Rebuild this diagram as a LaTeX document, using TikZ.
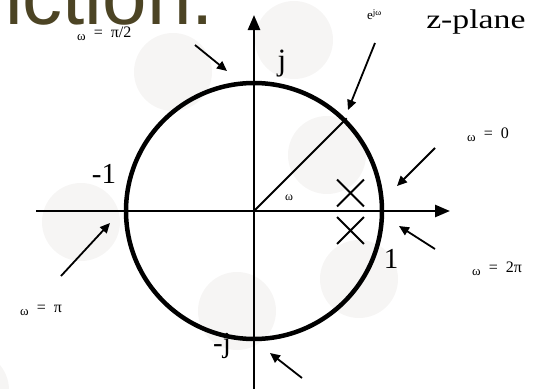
\documentclass[tikz,border=0pt]{standalone}
\usepackage{fontspec}
\setmainfont{Liberation Serif}
\newfontfamily\titlefont{Liberation Sans}
\usepackage{xcolor}
\usetikzlibrary{arrows.meta, positioning, shapes.misc}
\definecolor{blob}{RGB}{246,245,244}
\definecolor{titleolive}{RGB}{76,68,36}
\newcommand{\wsym}{\raisebox{-3pt}{\fontsize{13}{13}\selectfont ω}}

\begin{document}
\begin{tikzpicture}[
    x=1pt, y=-1pt,
    bgdot/.style={fill=blob, draw=none},
    axis/.style={line width=2.5pt, -{Triangle[length=15pt,width=12pt]}},
    unitcircle/.style={line width=4.5pt},
    pointer/.style={line width=1.8pt, -{Triangle[length=10pt,width=9pt]}},
    pole/.style={cross out, draw, line width=1.8pt, minimum size=25pt, inner sep=0pt},
    biglabel/.style={font=\fontsize{29}{29}\selectfont, inner sep=0pt, anchor=base},
    smalllabel/.style={font=\fontsize{16}{16}\selectfont, inner sep=0pt, anchor=base west}
]
\useasboundingbox (0,0) rectangle (537,388);

% background dots
\foreach \cx/\cy in {173/72, 294/40, 327/155, 81/222, 237/311, 359/279, -30/390}
    \fill[bgdot] (\cx,\cy) circle (39);

% cut-off title
\node[font=\titlefont\fontsize{80}{80}\selectfont, text=titleolive,
      inner sep=0pt, anchor=base east] (title) at (214,24) {nction.};

% axes
\coordinate (O) at (254,211);
\coordinate (xl) at (36,211);
\coordinate (xr) at (450,211);
\coordinate (yb) at (254,392);
\coordinate (yt) at (254,15);
\draw[axis] (xl) -- (xr);
\draw[axis] (yb) -- (yt);

% unit circle and radius
\draw[unitcircle] (O) circle (128);
\draw[line width=1.8pt] (O) -- ++(-45:131) coordinate (rim);

% poles
\node[pole] (p1) at (350.5,193) {};
\node[pole] (p2) at (350.5,230.5) {};

% axis labels
\node[biglabel, font=\fontsize{31}{31}\selectfont] (j) at (282,70) {j};
\node[biglabel] (m1) at (104,183) {-1};
\node[biglabel] (one) at (391,268) {1};
\node[biglabel] (mj) at (222,352) {-j};
\node[font=\fontsize{27}{27}\selectfont, inner sep=0pt, anchor=base west, xscale=1.25] (zp) at (426,28) {z-plane};
\node[font=\fontsize{12}{12}\selectfont, inner sep=0pt, anchor=base west] (ang) at (285,200) {ω};

% frequency labels
\node[smalllabel] (wHalf) at (77,37) {\wsym\ \ = \ π/2};
\node[smalllabel] (wZero) at (467,138) {\wsym\ \ = \ 0};
\node[smalllabel] (wTwo) at (472,272) {\wsym\ \ = \ 2π};
\node[smalllabel] (wPi) at (20,312) {\wsym\ \ = \ π};
\node[font=\fontsize{13}{13}\selectfont, inner sep=0pt, anchor=base west] (ejw) at (367,19)
    {e\raisebox{4pt}{\fontsize{9}{9}\selectfont jω}};

% pointers
\coordinate (tHalf) at (195,45);  \coordinate (hHalf) at (227,71);
\coordinate (tEjw) at (375,43);   \coordinate (hEjw) at (348,110);
\coordinate (tZero) at (435,148); \coordinate (hZero) at (397,186);
\coordinate (tPi) at (61,276);    \coordinate (hPi) at (110,223);
\coordinate (tTwo) at (435,249);  \coordinate (hTwo) at (399,226);
\coordinate (tBot) at (302,378);  \coordinate (hBot) at (270,353);
\draw[pointer] (tHalf) -- (hHalf);
\draw[pointer] (tEjw) -- (hEjw);
\draw[pointer] (tZero) -- (hZero);
\draw[pointer] (tPi) -- (hPi);
\draw[pointer] (tTwo) -- (hTwo);
\draw[pointer] (tBot) -- (hBot);

\end{tikzpicture}
\end{document}
